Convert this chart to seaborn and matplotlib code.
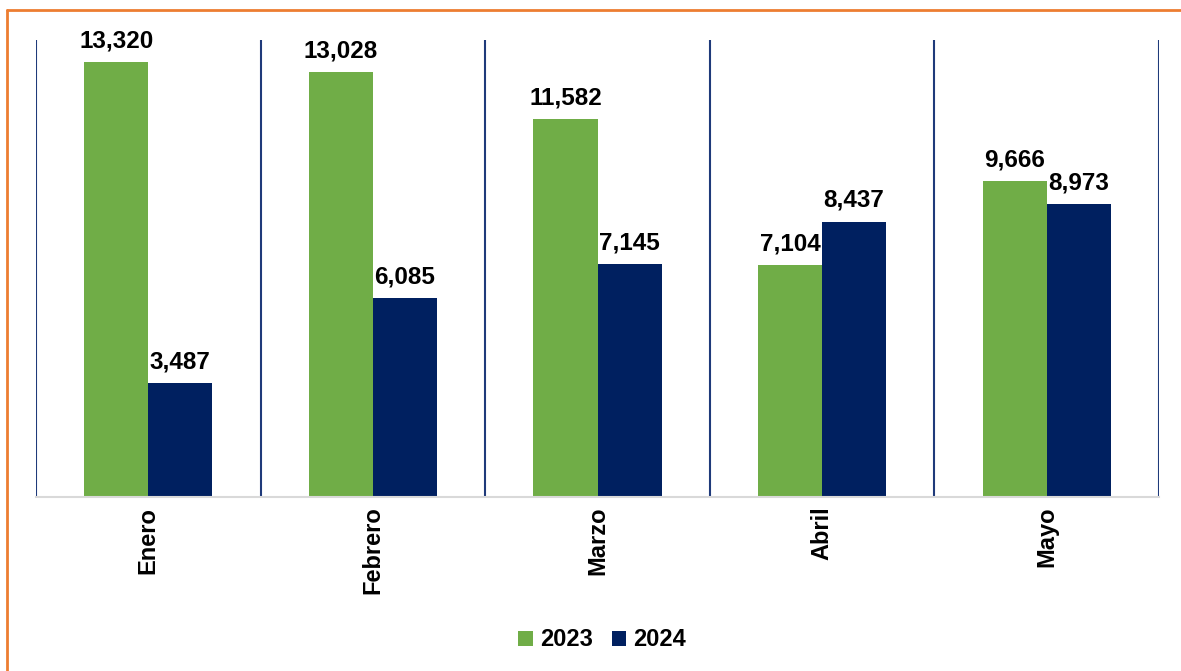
import pandas as pd
import matplotlib
matplotlib.use("Agg")
import matplotlib.pyplot as plt
from matplotlib.lines import Line2D
import seaborn as sns

months = ["Enero", "Febrero", "Marzo", "Abril", "Mayo"]
years = ["2023", "2024"]
values_2023 = [13320, 13028, 11582, 7104, 9666]
values_2024 = [3487, 6085, 7145, 8437, 8973]

df = pd.DataFrame(
    {
        "Mes": months * 2,
        "Año": [years[0]] * len(months) + [years[1]] * len(months),
        "Valor": values_2023 + values_2024,
    }
)

sns.set_theme(style="white")
plt.rcParams["font.family"] = ["Liberation Sans", "DejaVu Sans"]
plt.rcParams["text.color"] = "black"
plt.rcParams["xtick.color"] = "black"

green = "#70AD47"
navy = "#002060"

fig = plt.figure(figsize=(11.81, 6.71), dpi=100)
ax = fig.add_axes([36 / 1181, 1 - 497 / 671, (1159 - 36) / 1181, (497 - 40) / 671])

sns.barplot(
    data=df, x="Mes", y="Valor", hue="Año", order=months, hue_order=years,
    palette=[green, navy], width=0.57, saturation=1, linewidth=0, ax=ax, legend=True,
)

ax.set_ylim(0, 14000)
ax.set_xlim(-0.5, len(months) - 0.5)
ax.set_yticks([])
ax.set_xlabel("")
ax.set_ylabel("")
for s in ["top", "right", "left"]:
    ax.spines[s].set_visible(False)
ax.spines["bottom"].set_color("#D9D9D9")
ax.spines["bottom"].set_linewidth(1.5)

# separators between categories
for xv in [i - 0.5 for i in range(len(months) + 1)]:
    ax.axvline(xv, color="#1F3A7A", linewidth=1.5, ymin=0, ymax=1)

ax.tick_params(axis="x", length=0, pad=7)
ax.set_xticks(range(len(months)))
ax.set_xticklabels(months, rotation=90, fontsize=17, fontweight="bold", va="top", color="black")

for cont in ax.containers:
    labels = [f"{v:,.0f}" for v in cont.datavalues]
    ax.bar_label(cont, labels=labels, padding=7, fontsize=17.5, fontweight="bold", color="black")

leg = ax.legend(
    loc="center", bbox_to_anchor=(602 / 1181, 1 - 640 / 671),
    bbox_transform=fig.transFigure, ncol=2, frameon=False,
    handlelength=0.6, handleheight=0.6, handletextpad=0.3, columnspacing=0.8,
    prop={"weight": "bold", "size": 17},
)

# orange frame (left and top edges visible)
fig.add_artist(Line2D([7 / 1181, 7 / 1181], [0, 1 - 10 / 671], color="#ED7D31", linewidth=2, transform=fig.transFigure))
fig.add_artist(Line2D([7 / 1181, 1], [1 - 10 / 671, 1 - 10 / 671], color="#ED7D31", linewidth=2, transform=fig.transFigure))

fig.savefig("out.png", dpi=100)
